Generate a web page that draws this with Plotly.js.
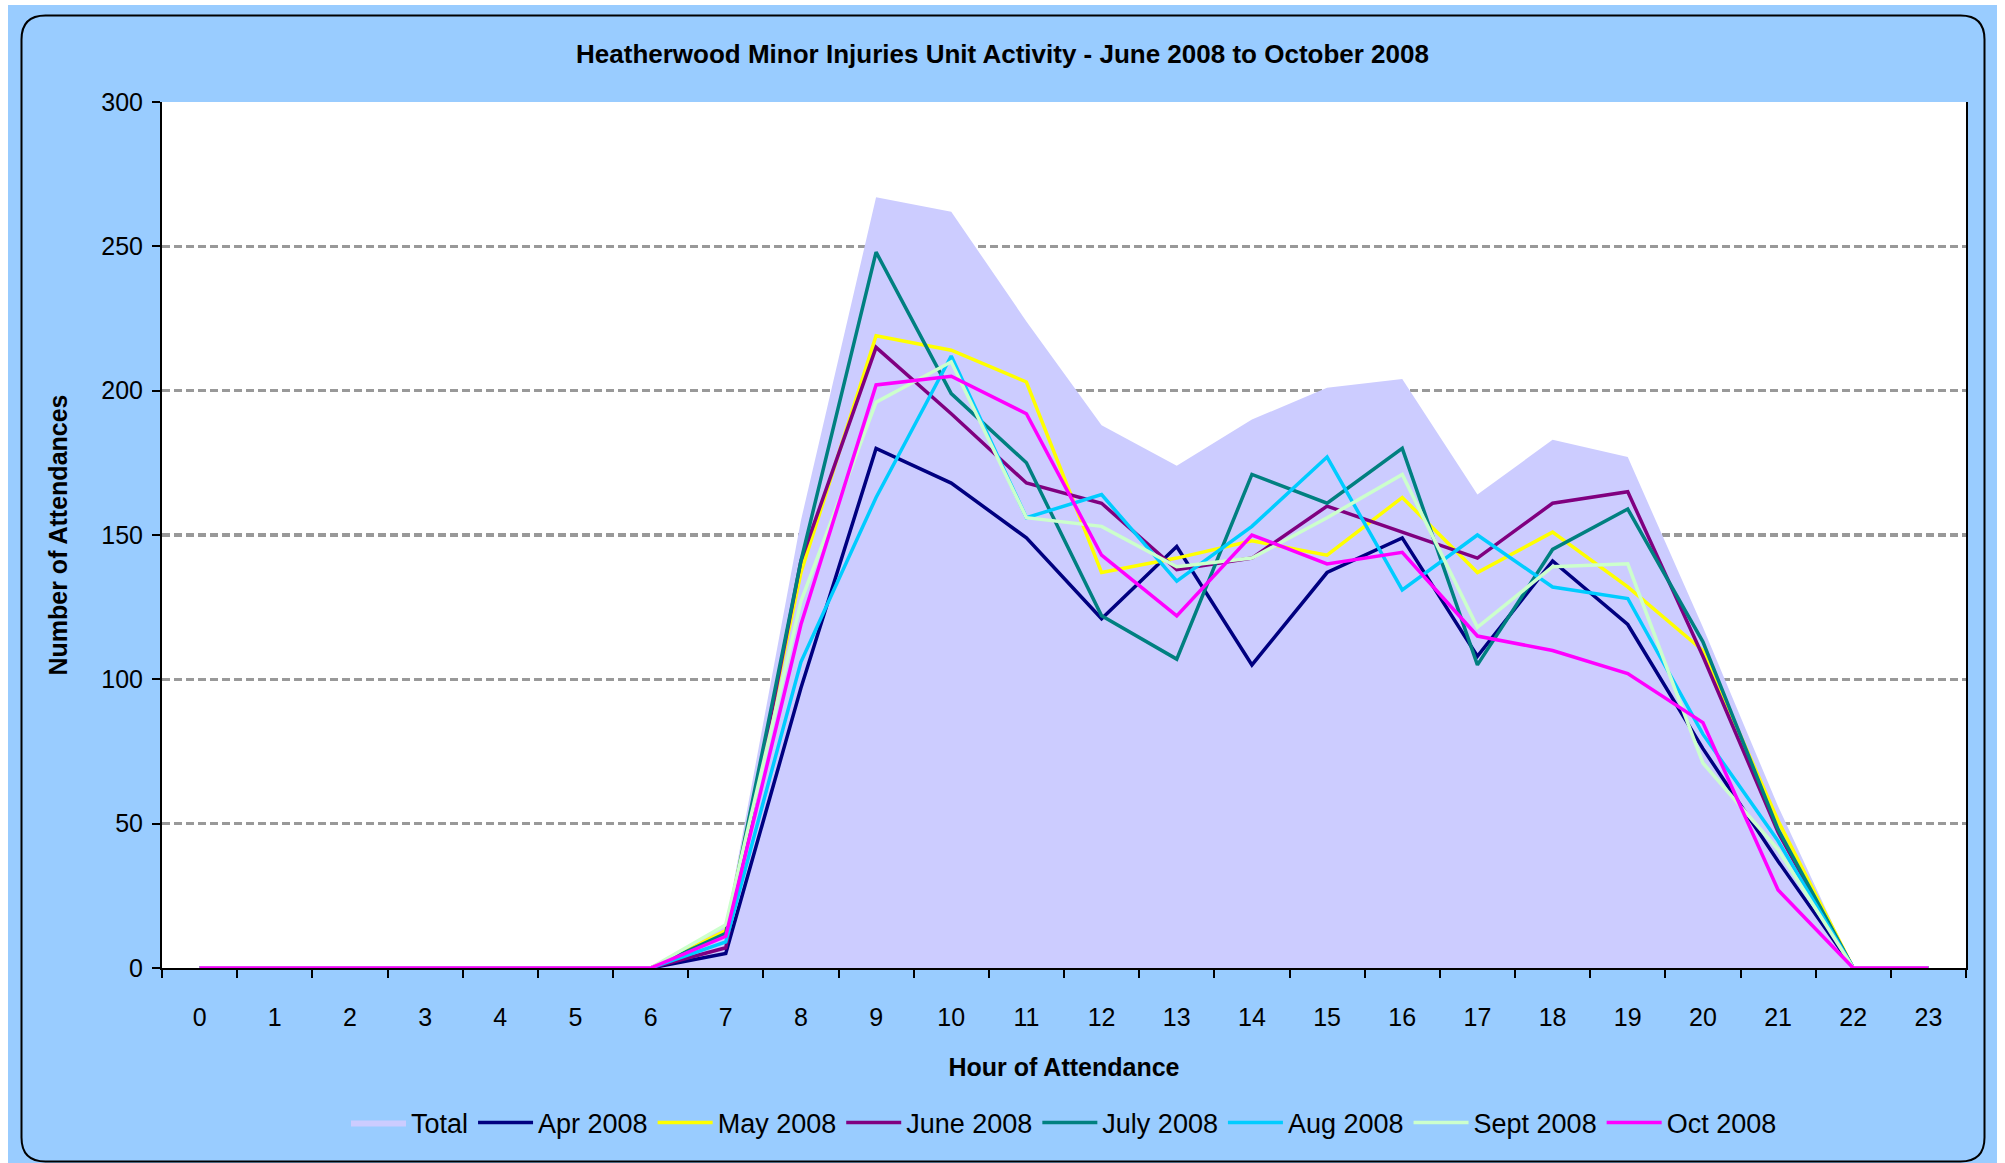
<!DOCTYPE html>
<html>
<head>
<meta charset="utf-8">
<script src="https://cdn.plot.ly/plotly-3.0.1.min.js"></script>
<style>
  html, body { margin: 0; padding: 0; background: #ffffff; }
  #chart { width: 2005px; height: 1163px; }
</style>
</head>
<body>
<div id="chart"></div>
<script>
// ---- Data ----
const hours = ["0","1","2","3","4","5","6","7","8","9","10","11","12","13","14","15","16","17","18","19","20","21","22","23"];
const total    = [0,0,0,0,0,0,0,15,155,267,262,224,188,174,190,201,204,164,183,177,118,56,0,0];
const apr2008  = [0,0,0,0,0,0,0,5,97,180,168,149,121,146,105,137,149,108,141,119,76,37,0,0];
const may2008  = [0,0,0,0,0,0,0,13,137,219,214,203,137,142,148,143,163,137,151,132,110,51,0,0];
const jun2008  = [0,0,0,0,0,0,0,7,141,215,192,168,161,138,142,160,151,142,161,165,108,47,0,0];
const jul2008  = [0,0,0,0,0,0,0,12,141,248,199,175,122,107,171,161,180,105,145,159,113,48,0,0];
const aug2008  = [0,0,0,0,0,0,0,9,106,163,212,156,164,134,153,177,131,150,132,128,81,44,0,0];
const sep2008  = [0,0,0,0,0,0,0,15,127,196,210,156,153,139,142,156,171,118,139,140,71,41,0,0];
const oct2008  = [0,0,0,0,0,0,0,11,119,202,205,192,143,122,150,140,144,115,110,102,85,27,0,0];
const seriesNames = ["Apr 2008","May 2008","June 2008","July 2008","Aug 2008","Sept 2008","Oct 2008"];
const seriesValues = [apr2008, may2008, jun2008, jul2008, aug2008, sep2008, oct2008];
const titleText = "Heatherwood Minor Injuries Unit Activity - June 2008 to October 2008";
const xTitle = "Hour of Attendance";
const yTitle = "Number of Attendances";

// ---- Styles ----
const lineColors = ["#000080","#FFFF00","#800080","#008080","#00CCFF","#CCFFCC","#FF00FF"];
const FONT = "'Liberation Sans', Arial, sans-serif";

const W = 2005, H = 1163;
const M = { l: 162, r: 39, t: 102, b: 195 };
const PW = W - M.l - M.r, PH = H - M.t - M.b;
const px = x => (x - M.l) / PW;
const py = y => (H - M.b - y) / PH;

const traces = [{
  type: 'scatter', mode: 'lines', name: 'Total',
  x: hours, y: total,
  fill: 'tozeroy', fillcolor: '#CCCCFF',
  line: { width: 0, color: '#CCCCFF' },
  hoverinfo: 'skip'
}];
seriesNames.forEach((n, i) => {
  traces.push({
    type: 'scatter', mode: 'lines', name: n,
    x: hours, y: seriesValues[i],
    line: { color: lineColors[i], width: 3.5 }
  });
});

// rounded outer frame
const fx0 = 21.5, fx1 = 1984.5, fy0 = 15.5, fy1 = 1161.5, rr = 24;
const framePath =
  'M' + px(fx0 + rr) + ',' + py(fy0) +
  ' L' + px(fx1 - rr) + ',' + py(fy0) +
  ' Q' + px(fx1) + ',' + py(fy0) + ' ' + px(fx1) + ',' + py(fy0 + rr) +
  ' L' + px(fx1) + ',' + py(fy1 - rr) +
  ' Q' + px(fx1) + ',' + py(fy1) + ' ' + px(fx1 - rr) + ',' + py(fy1) +
  ' L' + px(fx0 + rr) + ',' + py(fy1) +
  ' Q' + px(fx0) + ',' + py(fy1) + ' ' + px(fx0) + ',' + py(fy1 - rr) +
  ' L' + px(fx0) + ',' + py(fy0 + rr) +
  ' Q' + px(fx0) + ',' + py(fy0) + ' ' + px(fx0 + rr) + ',' + py(fy0) + ' Z';

const shapes = [
  { type: 'rect', xref: 'paper', yref: 'paper', layer: 'below', x0: px(0), x1: px(8), y0: py(0), y1: py(H), fillcolor: '#ffffff', line: { width: 0 } },
  { type: 'rect', xref: 'paper', yref: 'paper', layer: 'below', x0: px(0), x1: px(W), y0: py(0), y1: py(5), fillcolor: '#ffffff', line: { width: 0 } },
  { type: 'rect', xref: 'paper', yref: 'paper', layer: 'below', x0: px(1997), x1: px(W), y0: py(0), y1: py(H), fillcolor: '#ffffff', line: { width: 0 } },
  { type: 'path', xref: 'paper', yref: 'paper', layer: 'below', path: framePath, line: { color: '#000000', width: 2 } }
];

const layout = {
  width: W, height: H,
  margin: M,
  paper_bgcolor: '#99CCFF',
  plot_bgcolor: '#FFFFFF',
  font: { family: FONT, size: 25, color: '#000000' },
  showlegend: true,
  title: {
    text: '<b>' + titleText + '</b>',
    font: { family: FONT, size: 26, color: '#000000' },
    x: 0.5, xanchor: 'center', xref: 'container',
    y: 1 - 53.7 / H, yanchor: 'middle', yref: 'container'
  },
  xaxis: {
    type: 'category',
    categoryorder: 'array', categoryarray: hours,
    range: [-0.5, 23.5],
    tickson: 'boundaries',
    ticks: 'outside', ticklen: 8, tickwidth: 2, tickcolor: '#000000',
    showline: true, linecolor: '#000000', linewidth: 2,
    showgrid: false, zeroline: false,
    ticklabelstandoff: 26,
    tickfont: { family: FONT, size: 25 },
    title: { text: '<b>' + xTitle + '</b>', font: { family: FONT, size: 25 }, standoff: 28 },
    fixedrange: true
  },
  yaxis: {
    range: [0, 300], dtick: 50, tick0: 0,
    ticks: 'outside', ticklen: 8, tickwidth: 2, tickcolor: '#000000',
    showline: true, linecolor: '#000000', linewidth: 2, mirror: true,
    showgrid: true, gridcolor: '#999999', gridwidth: 3.5, griddash: '8px,4px',
    zeroline: false,
    ticklabelstandoff: 4,
    tickfont: { family: FONT, size: 25 },
    title: { text: '<b>' + yTitle + '</b>', font: { family: FONT, size: 25 }, standoff: 27 },
    fixedrange: true
  },
  legend: {
    orientation: 'h',
    x: 0.5, xanchor: 'center',
    y: py(1123), yanchor: 'middle',
    bgcolor: 'rgba(0,0,0,0)',
    font: { family: FONT, size: 27 },
    itemwidth: 55,
    traceorder: 'normal'
  },
  shapes: shapes
};

Plotly.newPlot('chart', traces, layout, { displayModeBar: false, staticPlot: true });
</script>
</body>
</html>
